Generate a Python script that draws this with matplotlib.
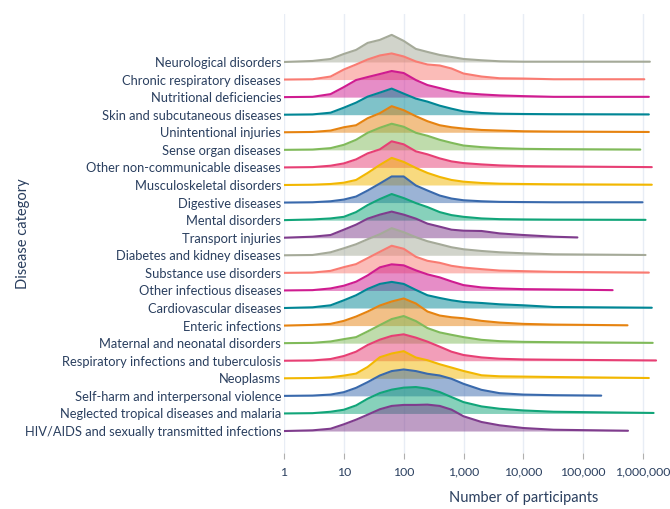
import numpy as np
import matplotlib
matplotlib.use('Agg')
from matplotlib import pyplot as plt
from matplotlib.ticker import FuncFormatter, FixedLocator, NullLocator

plt.rcParams['font.family'] = ['Lato', 'DejaVu Sans']

# categories, bottom row first
categories = [
    'HIV/AIDS and sexually transmitted infections',
    'Neglected tropical diseases and malaria',
    'Self-harm and interpersonal violence',
    'Neoplasms',
    'Respiratory infections and tuberculosis',
    'Maternal and neonatal disorders',
    'Enteric infections',
    'Cardiovascular diseases',
    'Other infectious diseases',
    'Substance use disorders',
    'Diabetes and kidney diseases',
    'Transport injuries',
    'Mental disorders',
    'Digestive diseases',
    'Musculoskeletal disorders',
    'Other non-communicable diseases',
    'Sense organ diseases',
    'Unintentional injuries',
    'Skin and subcutaneous diseases',
    'Nutritional deficiencies',
    'Chronic respiratory diseases',
    'Neurological disorders',
]

# participant counts where the density was read
participants = [1, 3, 6, 10, 16, 25, 40, 63, 100, 160, 250, 400, 630,
                1000, 2000, 4000, 10000, 32000]

# largest study in each category (end of each ridge)
max_participants = [560000, 1500000, 200000, 1250000, 1650000, 1450000,
                    550000, 1400000, 310000, 1250000, 1100000, 80000,
                    1100000, 980000, 1400000, 1400000, 900000, 1250000,
                    1250000, 1250000, 1050000, 1300000]

# density (arbitrary units) at each count above, last value = density at max
density = [
    [0, 0.7, 2.3, 6.7, 11.3, 16.3, 21.7, 25, 26, 26, 26.3, 25, 21.3, 14.7, 9, 5.7, 3, 1.3, 0.3],
    [0, 0.3, 1.7, 3.7, 8, 14.7, 20.3, 23.7, 25.7, 26.3, 24.7, 21.3, 16.3, 11.3, 7, 4.7, 3, 1.7, 0.5],
    [0, 0.3, 1.3, 3.7, 8, 13.7, 20.3, 24.7, 26.3, 24.7, 22, 20.3, 17, 12, 6, 2.7, 1.3, 0.7, 0.3],
    [0, 0.3, 1, 2.7, 4.7, 11.3, 21, 24.7, 27, 20.7, 18, 14, 10.7, 7.3, 3, 2, 1.7, 1.3, 0.3],
    [0, 0.3, 1.7, 4.7, 9, 15.7, 21, 24.7, 26.3, 23, 19, 14, 9, 5.7, 3.3, 2, 1.3, 1, 0.3],
    [0, 0.3, 1.7, 4, 6, 11.7, 18, 24, 27, 22, 15, 10.7, 8.3, 6, 3.3, 2, 1.3, 1, 0.3],
    [0, 0.7, 1.7, 4.7, 9, 14, 20, 24, 27, 22, 14, 10, 8.3, 7.3, 4.7, 3, 1.7, 1, 0.3],
    [0, 0.7, 2.7, 7.7, 12.7, 19, 24, 26, 24, 18, 12.7, 10, 7.7, 6, 5, 3.7, 2.7, 1, 0.3],
    [0, 0.3, 2, 4.7, 8.7, 15, 23, 26, 25, 20, 16, 13, 9, 5.3, 3, 2, 1.3, 1, 0.3],
    [0, 0.3, 2, 5.7, 8.7, 14.7, 21, 27, 24, 16, 12, 10, 7, 5.3, 3.7, 2.3, 1.7, 1, 0.3],
    [0, 0.3, 3, 7, 11, 16, 21, 27, 23, 18, 14, 11, 8, 6, 4.3, 3, 2, 1, 0.3],
    [0, 1, 2.7, 8, 13, 19, 23, 26, 23, 19, 14, 11, 8, 7, 6.7, 4.3, 2.7, 1, 0.3],
    [0, 0.7, 1.7, 3.3, 8, 15, 21, 26, 22, 17, 13, 8, 5, 3.3, 1.7, 1, 0.7, 0.5, 0.3],
    [0, 0.3, 1.3, 3, 6, 12, 19, 26, 26, 17, 12, 7, 4, 2.3, 1.3, 0.7, 0.5, 0.3, 0.3],
    [0, 0.3, 1, 2.3, 5, 12, 20, 27, 23, 17, 12, 8, 5, 3.3, 2, 1.3, 1, 0.7, 0.3],
    [0, 0.3, 1.7, 4, 8, 14, 18, 26, 23, 16, 13, 9, 6, 4.3, 3, 2, 1.3, 1, 0.3],
    [0, 0.3, 1.7, 5, 10, 17, 22, 26, 23, 17, 14, 10, 7, 4.3, 2.7, 1.7, 1, 0.7, 0.3],
    [0, 0.3, 1.7, 5, 7, 14, 19, 26, 22, 16, 11, 7, 5, 3.7, 2.3, 1.7, 1, 0.7, 0.3],
    [0, 0.3, 2, 7, 12, 18, 22, 26, 21, 16, 13, 9, 6, 3.3, 1.7, 1, 0.7, 0.5, 0.3],
    [0, 0.3, 3, 10, 17, 20, 23, 26, 24, 17, 12, 9, 6, 4, 2.7, 1.7, 1, 0.3, 0.3],
    [0, 0.3, 3, 10, 15, 20, 24, 26, 23, 18, 15, 14, 11, 6, 3, 1.3, 1, 0.3, 0.3],
    [0, 1, 3, 8, 12, 19, 22, 27, 21, 13, 10, 7, 5, 3, 1.7, 0.7, 0.3, 0.3, 0.3],
]

# plotly "Bold" qualitative palette, cycled from the bottom row
colours = ['#7F3C8D', '#11A579', '#3969AC', '#F2B701', '#E73F74', '#80BA5A',
           '#E68310', '#008695', '#CF1C90', '#F97B72', '#A5AA99']

text_col = '#2A3F5F'
grid_col = '#E8EDF5'

fig = plt.figure(figsize=(6.7, 5.09), dpi=100)
ax = fig.add_axes([284/670, 1-453/509, 377/670, 439/509])
ax.set_xscale('log')

scale = 1/17.5  # density units -> row heights

# top row first so the lower ridges sit on top
for i in reversed(range(len(categories))):
    c = colours[i % len(colours)]
    xs = np.array(participants + [max_participants[i]], dtype=float)
    ys = i + np.array(density[i])*scale
    ax.fill_between(xs, i, ys, color=c, alpha=0.5, lw=0, zorder=2)
    ax.plot(xs, ys, color=c, lw=1.5, zorder=3, solid_capstyle='round',
            solid_joinstyle='round')

ax.set_xlim(1, 10**6.3)
ax.set_ylim(-1.25, 23.73)

xt = [1, 10, 100, 1000, 10000, 100000, 1000000]
ax.xaxis.set_major_locator(FixedLocator(xt))
ax.xaxis.set_minor_locator(NullLocator())
ax.xaxis.set_major_formatter(FuncFormatter(lambda v, p: '{:,}'.format(int(round(v)))))
ax.set_yticks(range(len(categories)))
ax.set_yticklabels(categories)

ax.grid(axis='x', color=grid_col, lw=1, zorder=0)
for s in ax.spines.values():
    s.set_visible(False)
ax.tick_params(axis='y', length=0, pad=2, labelsize=9.3, labelcolor=text_col)
ax.tick_params(axis='x', length=4, color='#B0B0B0', pad=6, labelsize=8.8, labelcolor=text_col)

ax.set_xlabel('Number of participants', fontsize=10.5, color=text_col)
ax.xaxis.set_label_coords(0.637, -0.087)
ax.set_ylabel('Disease category', fontsize=10.5, color=text_col)
ax.yaxis.set_label_coords(-0.675, 0.5)

fig.savefig('out.png', dpi=100)
